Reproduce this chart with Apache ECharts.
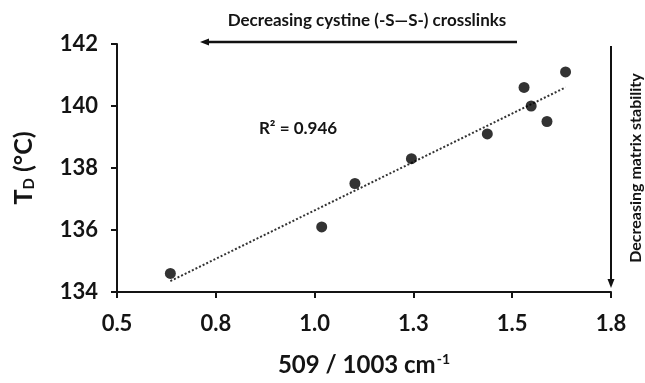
<!DOCTYPE html>
<html>
<head>
<meta charset="utf-8">
<script src="https://cdn.jsdelivr.net/npm/echarts@6/dist/echarts.min.js"></script>
<style>
html,body{margin:0;padding:0;background:#fff;}
#chart{width:645px;height:383px;}
</style>
</head>
<body>
<div id="chart"></div>
<script>
// ---- data ----
var ratio509 = [0.635, 1.018, 1.102, 1.245, 1.437, 1.530, 1.548, 1.588, 1.635];
var tempTD   = [134.6, 136.1, 137.5, 138.3, 139.1, 140.6, 140.0, 139.5, 141.1];
var xTicks = [0.5, 0.75, 1.0, 1.25, 1.5, 1.75];
var xTickLabels = ['0.5', '0.8', '1.0', '1.3', '1.5', '1.8'];
var yTicks = [134, 136, 138, 140, 142];
var r2Label = 'R² = 0.946';
var topNote = 'Decreasing cystine (-S\u2014S-) crosslinks';
var rightNote = 'Decreasing matrix stability';

// linear least-squares trendline from the data
var n = ratio509.length, sx = 0, sy = 0, sxx = 0, sxy = 0;
for (var i = 0; i < n; i++) {
  sx += ratio509[i]; sy += tempTD[i];
  sxx += ratio509[i] * ratio509[i]; sxy += ratio509[i] * tempTD[i];
}
var slope = (n * sxy - sx * sy) / (n * sxx - sx * sx);
var intercept = (sy - slope * sx) / n;
var xMin = Math.min.apply(null, ratio509), xMax = Math.max.apply(null, ratio509);
var trend = [[xMin, intercept + slope * xMin], [xMax, intercept + slope * xMax]];

var FONT = 'Lato';
var INK = '#141414';
var chart = echarts.init(document.getElementById('chart'));
chart.setOption({
  animation: false,
  backgroundColor: '#ffffff',
  textStyle: { fontFamily: FONT },
  grid: { left: 117, right: 34, top: 44, bottom: 91 },
  xAxis: {
    type: 'value', min: 0.5, max: 1.75, interval: 0.25,
    splitLine: { show: false },
    axisLine: { lineStyle: { color: INK, width: 2 } },
    axisTick: { inside: false, length: 6, lineStyle: { color: INK, width: 2 } },
    axisLabel: {
      margin: 21, fontSize: 22, fontWeight: 'bold', color: INK, fontFamily: FONT,
      formatter: function (v) {
        for (var k = 0; k < xTicks.length; k++) if (Math.abs(xTicks[k] - v) < 1e-9) return xTickLabels[k];
        return '';
      }
    },
    name: '{t|509 / 1003 cm}{s|-1}',
    nameLocation: 'middle', nameGap: 60,
    nameTextStyle: {
      rich: {
        t: { fontSize: 24, fontWeight: 'bold', color: INK, fontFamily: FONT },
        s: { fontSize: 14, fontWeight: 'bold', color: INK, fontFamily: FONT, verticalAlign: 'top', padding: [0, 0, 13, 1] }
      }
    }
  },
  yAxis: {
    type: 'value', min: yTicks[0], max: yTicks[yTicks.length - 1], interval: 2,
    splitLine: { show: false },
    axisLine: { lineStyle: { color: INK, width: 2 } },
    axisTick: { inside: false, length: 6, lineStyle: { color: INK, width: 2 } },
    axisLabel: { margin: 19, fontSize: 22, fontWeight: 'bold', color: INK, fontFamily: FONT },
    name: '{t|T}{s|D}{t| (°C)}',
    nameLocation: 'middle', nameGap: 80, nameRotate: 90,
    nameTextStyle: {
      rich: {
        t: { fontSize: 25, fontWeight: 'bold', color: INK, fontFamily: FONT },
        s: { fontSize: 15, fontWeight: 'bold', color: INK, fontFamily: FONT, padding: [11, 0, 0, 0] }
      }
    }
  },
  series: [
    {
      type: 'line', data: trend, symbol: 'none', silent: true,
      lineStyle: { color: '#333', width: 2, type: [2, 2] }, z: 1
    },
    {
      type: 'scatter', data: ratio509.map(function (x, i) { return [x, tempTD[i]]; }),
      symbol: 'circle', symbolSize: 11, itemStyle: { color: '#000' }, z: 2
    }
  ],
  graphic: [
    { type: 'text', x: 367, y: 21, style: { text: topNote, font: 'bold 17px ' + FONT, fill: INK, align: 'center', verticalAlign: 'middle' } },
    { type: 'line', shape: { x1: 517, y1: 42, x2: 206, y2: 42 }, style: { stroke: '#111', lineWidth: 2.5 } },
    { type: 'polygon', shape: { points: [[200, 42], [209, 38.5], [209, 45.5]] }, style: { fill: '#111' } },
    { type: 'line', shape: { x1: 611, y1: 46, x2: 611, y2: 281 }, style: { stroke: '#111', lineWidth: 2 } },
    { type: 'polygon', shape: { points: [[611, 288], [607.5, 279], [614.5, 279]] }, style: { fill: '#111' } },
    { type: 'text', x: 636, y: 168, rotation: Math.PI / 2,
      style: { text: rightNote, font: 'bold 16px ' + FONT, fill: INK, align: 'center', verticalAlign: 'middle' } },
    { type: 'text', x: 298, y: 129,
      style: { text: r2Label, font: 'bold 17px ' + FONT, fill: INK, align: 'center', verticalAlign: 'middle' } }
  ]
});
</script>
</body>
</html>
